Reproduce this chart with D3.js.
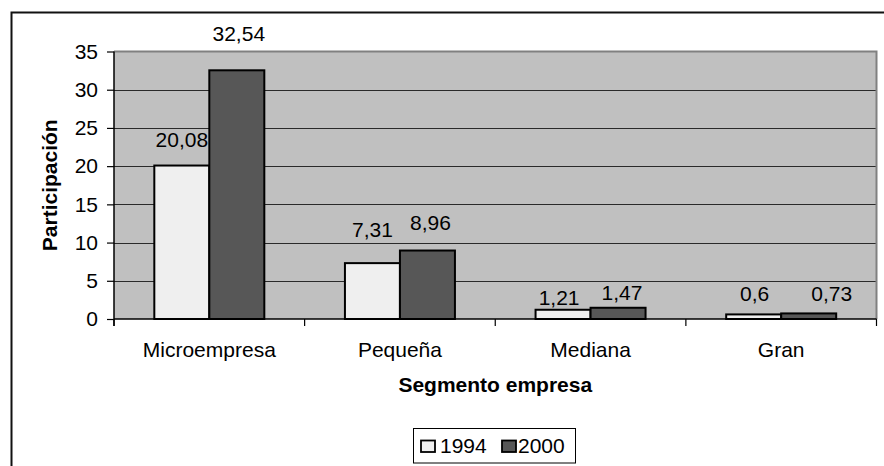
<!DOCTYPE html>
<html>
<head>
<meta charset="utf-8">
<script src="https://cdn.jsdelivr.net/npm/d3@7"></script>
<style>
  html, body { margin: 0; padding: 0; background: #fff; }
  svg { display: block; }
  text { font-family: "Liberation Sans", Arial, sans-serif; fill: #000; }
</style>
</head>
<body>
<svg id="chart" width="884" height="466"></svg>
<script>
// Participación por segmento de empresa, 1994 vs 2000
const categories = ["Microempresa", "Pequeña", "Mediana", "Gran"];
const years = ["1994", "2000"];
const values1994 = [20.08, 7.31, 1.21, 0.6];
const values2000 = [32.54, 8.96, 1.47, 0.73];
const yTicks = [0, 5, 10, 15, 20, 25, 30, 35];

const seriesColors = { "1994": "#EFEFEF", "2000": "#575757" };

// Small per-label nudges so the value labels sit where the original layout put them
const labelNudge = {
  "1994": [[0, -19], [0, -26], [-4, -5], [1, -13]],
  "2000": [[2, -29], [3, -21], [4, -8], [23, -12]]
};

const svg = d3.select("#chart");
const plot = { left: 114, right: 876.5, top: 51.5, bottom: 319 };
const fontSize = 21;

// outer chart frame (left and top edges are visible)
svg.append("path")
  .attr("d", "M11.5,466 V12.5 H884")
  .attr("fill", "none")
  .attr("stroke", "#111")
  .attr("stroke-width", 2);

const y = d3.scaleLinear().domain([0, 35]).range([plot.bottom, plot.top]);
const x0 = d3.scaleBand().domain(categories).range([plot.left, plot.right]).paddingInner(0).paddingOuter(0);
const x1 = d3.scaleBand().domain(years).range([0, x0.bandwidth()]).paddingInner(0).paddingOuter(0.733);

// plot background
svg.append("rect")
  .attr("x", plot.left).attr("y", plot.top)
  .attr("width", plot.right - plot.left).attr("height", plot.bottom - plot.top)
  .attr("fill", "#C0C0C0");

// horizontal gridlines
svg.append("g")
  .selectAll("line")
  .data(yTicks.filter(t => t > 0 && t < 35))
  .join("line")
  .attr("x1", plot.left).attr("x2", plot.right)
  .attr("y1", d => Math.round(y(d)) + 0.5).attr("y2", d => Math.round(y(d)) + 0.5)
  .attr("stroke", "#2a2a2a").attr("stroke-width", 1);

// plot border (top and right)
svg.append("path")
  .attr("d", `M${plot.left},${plot.top} H${plot.right} V${plot.bottom}`)
  .attr("fill", "none")
  .attr("stroke", "#808080")
  .attr("stroke-width", 2);

// bars
const rows = categories.map((c, i) => ({ cat: c, i, vals: [
  { year: "1994", v: values1994[i], i },
  { year: "2000", v: values2000[i], i }
]}));

const groups = svg.append("g").selectAll("g")
  .data(rows)
  .join("g")
  .attr("transform", d => `translate(${x0(d.cat)},0)`);

groups.selectAll("rect")
  .data(d => d.vals)
  .join("rect")
  .attr("x", d => x1(d.year))
  .attr("y", d => y(d.v))
  .attr("width", x1.bandwidth())
  .attr("height", d => y(0) - y(d.v))
  .attr("fill", d => seriesColors[d.year])
  .attr("stroke", "#000")
  .attr("stroke-width", 2);

// value labels
const fmt = v => String(v).replace(".", ",");
groups.selectAll("text")
  .data(d => d.vals)
  .join("text")
  .attr("x", d => x1(d.year) + x1.bandwidth() / 2 + labelNudge[d.year][d.i][0])
  .attr("y", d => y(d.v) + labelNudge[d.year][d.i][1])
  .attr("text-anchor", "middle")
  .style("font-size", fontSize + "px")
  .text(d => fmt(d.v));

// y axis
const yAxis = d3.axisLeft(y).tickValues(yTicks).tickSize(7).tickPadding(9).tickFormat(d3.format("d"));
const gy = svg.append("g").attr("transform", `translate(${plot.left},0)`).call(yAxis);
gy.select(".domain").attr("d", `M0,${plot.top} V${plot.bottom + 7}`).attr("stroke", "#000").attr("stroke-width", 1.5);
gy.selectAll(".tick line").attr("stroke", "#000").attr("stroke-width", 1.2);
gy.selectAll(".tick text").style("font-size", fontSize + "px").attr("font-family", null);

// x axis: baseline plus tick marks at category boundaries
svg.append("line")
  .attr("x1", plot.left).attr("x2", plot.right)
  .attr("y1", plot.bottom).attr("y2", plot.bottom)
  .attr("stroke", "#000").attr("stroke-width", 1.5);
const boundaries = categories.map(c => x0(c)).concat([plot.right]);
svg.append("g").selectAll("line")
  .data(boundaries)
  .join("line")
  .attr("x1", d => d).attr("x2", d => d)
  .attr("y1", plot.bottom).attr("y2", plot.bottom + 7)
  .attr("stroke", "#000").attr("stroke-width", 1.2);

svg.append("g").selectAll("text")
  .data(categories)
  .join("text")
  .attr("x", d => x0(d) + x0.bandwidth() / 2)
  .attr("y", 357)
  .attr("text-anchor", "middle")
  .style("font-size", fontSize + "px")
  .text(d => d);

// axis titles
svg.append("text")
  .attr("x", (plot.left + plot.right) / 2)
  .attr("y", 392)
  .attr("text-anchor", "middle")
  .style("font-size", fontSize + "px")
  .style("font-weight", "bold")
  .text("Segmento empresa");

svg.append("text")
  .attr("transform", `translate(57,${(plot.top + plot.bottom) / 2}) rotate(-90)`)
  .attr("text-anchor", "middle")
  .style("font-size", fontSize + "px")
  .style("font-weight", "bold")
  .text("Participación");

// legend
const legend = svg.append("g");
legend.append("rect")
  .attr("x", 413.5).attr("y", 428.5).attr("width", 162).attr("height", 34.5)
  .attr("fill", "#fff").attr("stroke", "#000").attr("stroke-width", 1);
const legendItems = [
  { year: years[0], sx: 421, tx: 440 },
  { year: years[1], sx: 502, tx: 518 }
];
legend.selectAll("rect.sw")
  .data(legendItems)
  .join("rect")
  .attr("class", "sw")
  .attr("x", d => d.sx).attr("y", 440.5).attr("width", 14).attr("height", 11.5)
  .attr("fill", d => seriesColors[d.year])
  .attr("stroke", "#000").attr("stroke-width", 1.8);
legend.selectAll("text")
  .data(legendItems)
  .join("text")
  .attr("x", d => d.tx).attr("y", 453)
  .style("font-size", fontSize + "px")
  .text(d => d.year);
</script>
</body>
</html>
